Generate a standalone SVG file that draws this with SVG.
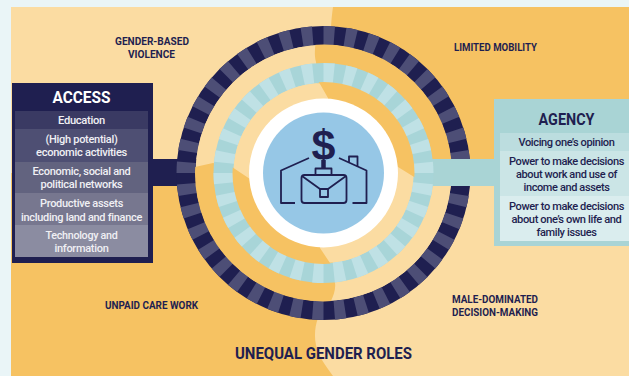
<svg xmlns="http://www.w3.org/2000/svg" width="629" height="376" viewBox="0 0 629 376">
<style>
text{font-family:"Roboto","Liberation Sans",sans-serif;text-anchor:middle}
.o{fill:#F6C262}
.l{fill:#FBDCA2}
.a{font-size:11.3px;fill:#F0F0F4;font-weight:500;letter-spacing:-0.3px}
.g{font-size:11.3px;fill:#1F1F50;font-weight:500;letter-spacing:-0.4px}
.h{font-size:16.5px;font-weight:700}
.c{font-size:10.5px;font-weight:700;fill:#1F1F50}
.i{fill:none;stroke:#1F1F50;stroke-width:1.8;stroke-linejoin:round}
.s{fill:none;stroke-dasharray:1 1}
</style>
<defs>
<clipPath id="gapClip"><circle cx="323.5" cy="173" r="128.5"/></clipPath>
<clipPath id="innerClip"><circle cx="323.5" cy="173" r="91"/></clipPath>
</defs>
<g id="background">
<rect width="629" height="376" fill="#EAF5F7"/>
<rect x="11" y="7" width="618" height="369" class="l"/>
<path class="o" d="M333,7C332,14 331,22 331,30L323,173L629,173V7Z"/>
<path class="o" d="M11,173H323L318,318C315,326 314,336 316,345C318,356 326,366 333,376H11Z"/>
</g>
<g id="connectors">
<rect x="150" y="159" width="48" height="27" fill="#1F1F50"/>
</g>
<g id="rings">
<circle cx="323.5" cy="173" r="137.5" fill="none" stroke="#1F1F50" stroke-width="19"/>
<circle class="s" cx="323.5" cy="173" r="137.5" stroke="#4D4E76" stroke-width="19" pathLength="80" transform="rotate(-90 323.5 173)"/>
<circle cx="323.5" cy="173" r="128" class="l"/>
<g clip-path="url(#gapClip)">
<path class="o" d="M316,40C315,48 314,54 316,62L323,173H460V40Z"/>
<path class="o" d="M190,168L213,163L236,168L323,173L335,283C336,290 333,297 329,305H190Z"/>
</g>
<rect id="agency-link" x="430" y="159" width="70" height="27" fill="#A9D4D5"/>
<circle cx="323.5" cy="173" r="100" fill="none" stroke="#A8D5D8" stroke-width="20"/>
<circle class="s" cx="323.5" cy="173" r="100" stroke="#BFE1E5" stroke-width="20" pathLength="60" transform="rotate(-90 323.5 173)"/>
<circle cx="323.5" cy="173" r="90" class="l"/>
<g clip-path="url(#innerClip)">
<path class="o" d="M317,80L320,84L328,98L323.500,173L398,167L416,178V80Z"/>
<path class="o" d="M250,179L232,167L226,165V270H334L330,263L320,248L323.500,173Z"/>
</g>
</g>
<g id="center-icon">
<circle cx="323.500" cy="173" r="74.500" fill="#fff"/>
<circle cx="323.500" cy="173" r="60.500" fill="#96C7E6"/>
<path class="i" d="M309,158L281,170.500V203H295"/>
<path class="i" d="M339,158L366.500,170.500V203H352.500"/>
<path class="i" d="M349,162.500V156.500H357.500V166.500"/>
<rect class="i" x="301.500" y="175" width="45" height="28" rx="3"/>
<rect class="i" x="315.500" y="168.500" width="16" height="6.500"/>
<path class="i" d="M302,176L320,189H328L346,176"/>
<rect class="i" x="320" y="189" width="8" height="8"/>
<line x1="323.500" y1="160" x2="323.500" y2="168" stroke="#1F1F50" stroke-width="4.500"/>
<text x="323.500" y="160" font-size="43" font-weight="700" fill="#1F1F50" style="font-family:'Liberation Sans',sans-serif">$</text>
</g>
<g id="access">
<rect x="12" y="83" width="141" height="180" fill="#1F1F50"/>
<rect x="15" y="111" width="133" height="18" fill="#3A3A63"/>
<rect x="15" y="129" width="133" height="33" fill="#4E4F73"/>
<rect x="15" y="162" width="133" height="31" fill="#62637F"/>
<rect x="15" y="193" width="133" height="32" fill="#77778F"/>
<rect x="15" y="225" width="133" height="32" fill="#8B8CA1"/>
<text class="h" x="81.500" y="103" fill="#fff" textLength="58" lengthAdjust="spacingAndGlyphs">ACCESS</text>
<text class="a" x="81.500" y="124" textLength="47" lengthAdjust="spacingAndGlyphs">Education</text>
<text class="a" x="81.500" y="143" textLength="72" lengthAdjust="spacingAndGlyphs">(High potential)</text>
<text class="a" x="81.500" y="156" textLength="91" lengthAdjust="spacingAndGlyphs">economic activities</text>
<text class="a" x="81.500" y="175" textLength="98" lengthAdjust="spacingAndGlyphs">Economic, social and</text>
<text class="a" x="81.500" y="188" textLength="82" lengthAdjust="spacingAndGlyphs">political networks</text>
<text class="a" x="81.500" y="207" textLength="83" lengthAdjust="spacingAndGlyphs">Productive assets</text>
<text class="a" x="81.500" y="220.500" textLength="121" lengthAdjust="spacingAndGlyphs">including land and finance</text>
<text class="a" x="81.500" y="239" textLength="72" lengthAdjust="spacingAndGlyphs">Technology and</text>
<text class="a" x="81.500" y="252" textLength="54" lengthAdjust="spacingAndGlyphs">information</text>
</g>
<g id="agency">
<rect x="494" y="99" width="135" height="147" fill="#A9D4D5"/>
<rect x="500" y="133" width="129" height="18" fill="#BCDDDF"/>
<rect x="500" y="151" width="129" height="45" fill="#CBE5E6"/>
<rect x="500" y="196" width="129" height="45" fill="#DAEDEE"/>
<text class="h" x="566.500" y="125" fill="#1F1F50" textLength="56" lengthAdjust="spacingAndGlyphs">AGENCY</text>
<text class="g" x="566.500" y="146" textLength="96" lengthAdjust="spacingAndGlyphs">Voicing one’s opinion</text>
<text class="g" x="566.500" y="165" textLength="115" lengthAdjust="spacingAndGlyphs">Power to make decisions</text>
<text class="g" x="566.500" y="177.500" textLength="101" lengthAdjust="spacingAndGlyphs">about work and use of</text>
<text class="g" x="566.500" y="191" textLength="86" lengthAdjust="spacingAndGlyphs">income and assets</text>
<text class="g" x="566.500" y="210" textLength="115" lengthAdjust="spacingAndGlyphs">Power to make decisions</text>
<text class="g" x="566.500" y="223" textLength="110" lengthAdjust="spacingAndGlyphs">about one’s own life and</text>
<text class="g" x="566.500" y="235.500" textLength="60" lengthAdjust="spacingAndGlyphs">family issues</text>
</g>
<g id="labels">
<text class="c" x="152" y="45" textLength="74" lengthAdjust="spacingAndGlyphs">GENDER-BASED</text>
<text class="c" x="151.500" y="58" textLength="47" lengthAdjust="spacingAndGlyphs">VIOLENCE</text>
<text class="c" x="495.500" y="51" textLength="83" lengthAdjust="spacingAndGlyphs">LIMITED MOBILITY</text>
<text class="c" x="151.500" y="309" textLength="93" lengthAdjust="spacingAndGlyphs">UNPAID CARE WORK</text>
<text class="c" x="495" y="303" textLength="86" lengthAdjust="spacingAndGlyphs">MALE-DOMINATED</text>
<text class="c" x="495" y="316" textLength="86" lengthAdjust="spacingAndGlyphs">DECISION-MAKING</text>
<text class="h" x="323.500" y="359" fill="#1F1F50" textLength="177" lengthAdjust="spacingAndGlyphs">UNEQUAL GENDER ROLES</text>
</g>
</svg>
